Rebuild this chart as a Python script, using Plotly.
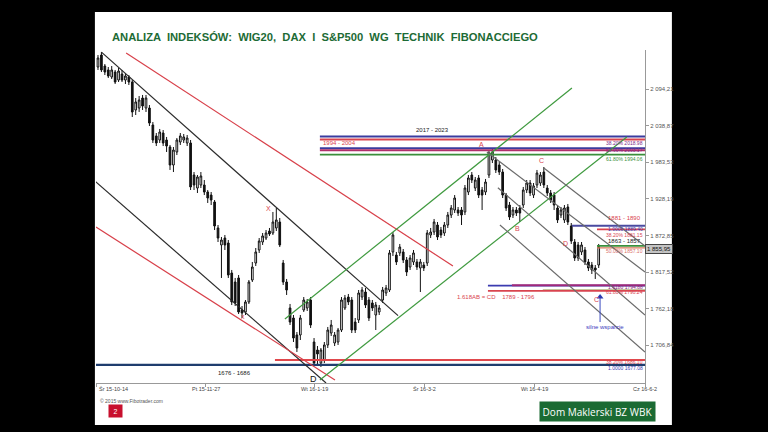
import plotly.graph_objects as go

# ---------------- data ----------------
day_index = list(range(147))
open_ = [2127.5, 2145.6, 2129.0, 2123.0, 2112.4, 2119.9, 2107.8, 2116.9, 2107.8, 2112.4,
         2104.8, 2062.5, 2065.5, 2080.6, 2065.5, 2065.5, 2039.8, 2023.2, 2017.1, 2027.7,
         2017.1, 2006.5, 1979.3, 1999.0, 2014.1, 2017.1, 2012.6, 2012.6, 1964.2, 1944.5,
         1949.1, 1949.1, 1938.5, 1933.9, 1923.4, 1884.1, 1858.4, 1868.9, 1861.4, 1816.0,
         1802.4, 1808.5, 1760.1, 1757.1, 1772.2, 1805.4, 1831.1, 1850.8, 1862.9, 1868.9,
         1879.5, 1876.5, 1884.1, 1893.1, 1831.1, 1802.4, 1763.1, 1748.0, 1722.3, 1722.3,
         1760.1, 1763.1, 1775.2, 1711.7, 1699.6, 1679.9, 1684.5, 1707.2, 1725.3, 1710.2,
         1711.7, 1729.8, 1763.1, 1779.7, 1775.2, 1741.9, 1745.0, 1779.7, 1787.3, 1775.2,
         1770.7, 1752.5, 1757.1, 1775.2, 1785.8, 1790.3, 1847.8, 1843.2, 1846.3, 1847.8,
         1835.7, 1825.1, 1832.7, 1832.7, 1823.6, 1828.1, 1831.1, 1873.5, 1878.0, 1888.6,
         1881.0, 1876.5, 1888.6, 1903.7, 1911.3, 1911.3, 1911.3, 1908.3, 1938.5, 1964.2,
         1944.5, 1959.7, 1941.5, 1938.5, 1964.2, 1986.9, 1986.9, 1979.3, 1968.7, 1933.9,
         1918.8, 1903.7, 1911.3, 1914.3, 1918.8, 1941.5, 1952.1, 1933.9, 1949.1, 1952.1,
         1968.7, 1944.5, 1937.0, 1933.9, 1914.3, 1903.7, 1896.2, 1915.8, 1887.1, 1862.9,
         1858.4, 1847.8, 1850.8, 1832.7, 1828.1, 1823.6, 1828.1]
high = [2145.6, 2150.2, 2132.0, 2127.5, 2129.0, 2123.0, 2126.0, 2123.0, 2118.4, 2115.4,
        2107.8, 2080.6, 2083.6, 2085.2, 2085.2, 2070.0, 2044.3, 2027.7, 2033.8, 2032.2,
        2021.7, 2009.6, 2006.5, 2020.1, 2027.7, 2026.2, 2024.7, 2017.1, 1968.7, 1964.2,
        1968.7, 1956.6, 1941.5, 1938.5, 1926.4, 1888.6, 1870.5, 1873.5, 1865.9, 1820.6,
        1808.5, 1813.0, 1766.1, 1775.2, 1805.4, 1832.7, 1853.8, 1868.9, 1876.5, 1881.0,
        1884.1, 1908.3, 1914.3, 1899.2, 1835.7, 1807.0, 1769.2, 1752.5, 1726.8, 1752.5,
        1779.7, 1776.7, 1779.7, 1717.7, 1705.6, 1702.6, 1711.7, 1734.4, 1745.0, 1726.8,
        1732.9, 1779.7, 1782.8, 1784.3, 1779.7, 1748.0, 1790.3, 1794.9, 1793.3, 1779.7,
        1775.2, 1772.2, 1767.6, 1794.9, 1797.9, 1850.8, 1878.0, 1847.8, 1859.9, 1852.3,
        1840.2, 1843.2, 1850.8, 1837.2, 1837.2, 1832.7, 1881.0, 1884.1, 1897.7, 1893.1,
        1885.6, 1893.1, 1908.3, 1918.8, 1933.9, 1915.8, 1915.8, 1949.1, 1964.2, 1968.7,
        1961.2, 1964.2, 1946.1, 1958.2, 2002.0, 2003.5, 1991.4, 1983.9, 1973.3, 1937.0,
        1923.4, 1915.8, 1915.8, 1918.8, 1946.1, 1956.6, 1956.6, 1952.1, 1971.8, 1968.7,
        1976.3, 1949.1, 1941.5, 1938.5, 1918.8, 1915.8, 1918.8, 1920.4, 1891.6, 1867.4,
        1862.9, 1862.9, 1855.3, 1837.2, 1832.7, 1828.1, 1859.9]
low = [2123.0, 2119.9, 2115.4, 2110.9, 2109.3, 2101.8, 2104.8, 2104.8, 2101.8, 2100.3,
       2051.9, 2054.9, 2059.5, 2062.5, 2059.5, 2038.3, 2012.6, 2008.0, 2012.6, 2008.0,
       1999.0, 1971.8, 1968.7, 1994.4, 2009.6, 2012.6, 2008.0, 1941.5, 1941.5, 1937.0,
       1944.5, 1933.9, 1921.9, 1918.8, 1881.0, 1862.9, 1808.5, 1850.8, 1808.5, 1767.6,
       1766.1, 1754.0, 1748.0, 1752.5, 1769.2, 1802.4, 1826.6, 1846.3, 1858.4, 1865.9,
       1872.0, 1873.5, 1879.5, 1855.3, 1797.9, 1782.8, 1737.4, 1711.7, 1696.6, 1714.7,
       1757.1, 1758.6, 1732.9, 1675.4, 1678.4, 1673.9, 1679.9, 1702.6, 1720.8, 1705.6,
       1707.2, 1726.8, 1760.1, 1767.6, 1725.3, 1725.3, 1740.4, 1775.2, 1763.1, 1743.4,
       1758.6, 1729.8, 1752.5, 1770.7, 1781.2, 1787.3, 1841.7, 1828.1, 1841.7, 1831.1,
       1811.5, 1820.6, 1828.1, 1820.6, 1787.3, 1819.0, 1826.6, 1868.9, 1873.5, 1865.9,
       1868.9, 1872.0, 1884.1, 1899.2, 1906.7, 1902.2, 1888.6, 1903.7, 1933.9, 1952.1,
       1940.0, 1929.4, 1911.3, 1933.9, 1959.7, 1982.3, 1967.2, 1964.2, 1929.4, 1909.8,
       1896.2, 1899.2, 1902.2, 1893.1, 1914.3, 1937.0, 1932.4, 1929.4, 1944.5, 1947.6,
       1944.5, 1932.4, 1921.9, 1911.3, 1891.6, 1899.2, 1891.6, 1888.6, 1859.9, 1834.2,
       1834.2, 1843.2, 1828.1, 1819.0, 1814.5, 1807.0, 1823.6]
close = [2141.1, 2123.0, 2119.9, 2113.9, 2123.0, 2104.8, 2121.4, 2107.8, 2113.9, 2104.8,
         2059.5, 2074.6, 2077.6, 2068.5, 2080.6, 2042.8, 2017.1, 2012.6, 2029.2, 2012.6,
         2008.0, 1979.3, 2002.0, 2017.1, 2023.2, 2021.7, 2020.1, 1946.1, 1949.1, 1961.2,
         1962.7, 1938.5, 1929.4, 1926.4, 1887.1, 1868.9, 1865.9, 1858.4, 1813.0, 1772.2,
         1770.7, 1757.1, 1755.5, 1772.2, 1802.4, 1825.1, 1847.8, 1864.4, 1872.0, 1876.5,
         1875.0, 1893.1, 1896.2, 1858.4, 1802.4, 1790.3, 1741.9, 1717.7, 1702.6, 1748.0,
         1775.2, 1772.2, 1737.4, 1679.9, 1693.6, 1699.6, 1707.2, 1729.8, 1737.4, 1722.3,
         1729.8, 1775.2, 1778.2, 1772.2, 1729.8, 1729.8, 1785.8, 1790.3, 1767.6, 1748.0,
         1763.1, 1767.6, 1763.1, 1790.3, 1793.3, 1846.3, 1873.5, 1832.7, 1855.3, 1835.7,
         1817.5, 1838.7, 1846.3, 1825.1, 1832.7, 1823.6, 1876.5, 1878.0, 1893.1, 1870.5,
         1873.5, 1888.6, 1903.7, 1914.3, 1929.4, 1906.7, 1903.7, 1944.5, 1959.7, 1956.6,
         1956.6, 1933.9, 1933.9, 1953.6, 1997.5, 1999.0, 1971.8, 1968.7, 1933.9, 1914.3,
         1900.7, 1911.3, 1906.7, 1906.7, 1941.5, 1952.1, 1937.0, 1947.6, 1967.2, 1964.2,
         1949.1, 1937.0, 1926.4, 1918.8, 1896.2, 1911.3, 1914.3, 1893.1, 1864.4, 1838.7,
         1838.7, 1858.4, 1832.7, 1823.6, 1820.6, 1820.6, 1855.95]

date_tick_pos = [-0.3, 31.4, 63.0, 95.3, 127.4, 159.5]
date_tick_text = ["Śr 15-10-14", "Pt 15-11-27", "Wt 16-1-19", "Śr 16-3-2", "Wt 16-4-19", "Cz 16-6-2"]
price_tick_vals = [1706.84, 1762.18, 1817.52, 1872.85, 1928.19, 1983.53, 2038.87, 2094.21]
price_tick_text = ["1 706,84", "1 762,18", "1 817,52", "1 872,85", "1 928,19", "1 983,53", "2 038,87", "2 094,21"]
last_price = 1855.95
last_price_text = "1 855,95"

# Fibonacci horizontal levels (price, start day index)
fib_levels = [2022.5, 2018.0, 2004.5, 2001.5, 1995.0, 1887.5, 1882.0, 1857.0, 1854.0,
              1797.0, 1797.5, 1790.0, 1789.0, 1684.5, 1677.0]
fib_start = [64.7, 64.7, 64.7, 64.7, 64.7, 138.2, 145.5, 145.5, 145.5,
             113.7, 120.7, 129.7, 113.7, 51.6, -0.6]
fib_end = 159.5

# trend lines (start day, start price, end day, end price)
trend_x0 = [1.0, 8.2, -0.9, -0.6, 54.5, 64.7, 113.4, 130.0, 116.6, 117.2]
trend_p0 = [2150.0, 2148.7, 1955.1, 1885.6, 1746.5, 1654.3, 1999.0, 1974.8, 1945.0, 1888.6]
trend_x1 = [87.5, 103.5, 66.5, 69.1, 138.2, 154.2, 159.5, 159.5, 159.5, 159.5]
trend_p1 = [1751.6, 1826.6, 1649.7, 1654.3, 2095.7, 2021.7, 1817.5, 1856.8, 1752.5, 1696.6]

# wave labels
wave_text = ["A", "B", "C", "D", "X", "D", "x", "C"]
wave_x = [111.9, 122.2, 129.2, 136.4, 49.6, 62.7, 42.3, 145.3]
wave_p = [2009.6, 1882.6, 1985.4, 1859.9, 1914.3, 1655.8, 1751.0, 1776.0]

# zone labels
zone_text = ["2017 - 2023", "1994 - 2004", "1881 - 1890", "1863 - 1857",
             "1.618AB = CD    1789 - 1796", "1676 - 1686"]
zone_x = [97.4, 64.9, 153.6, 153.6, 116.0, 39.7]
zone_p = [2032.2, 2012.6, 1899.0, 1864.0, 1779.7, 1664.8]

# right-edge fib labels
fiblab_text = ["38.20% 2018.98", "50.00% 2003.17", "61.80% 1994.06", "1.0000 1889.40",
               "38.20% 1881.15", "50.00% 1857.10", "1.6180 1794.88", "61.80% 1790.24",
               "38.20% 1686.10", "1.0000 1677.08"]
fiblab_p = [2013.0, 2001.7, 1988.4, 1882.6, 1873.5, 1849.7, 1794.9, 1787.8, 1681.5, 1672.4]

support_x = 146.4
support_p_top = 1779.7
support_p_bottom = 1741.9
support_text = "silne wsparcie"
support_text_p = 1734.4

# ---------------- styles ----------------
fib_colors = ["#3b3b9e", "#d9444f", "#3b3b9e", "#b0306a", "#3a8f3a", "#4a4aa0", "#d9444f",
              "#3a8f3a", "#d97a5a", "#3b3bb0", "#a0287a", "#8c8c3c", "#d9444f", "#e0474c", "#1f3d6e"]
fib_widths = [2, 2, 2, 2, 1.6, 2, 1.6, 1.8, 1.2, 1.6, 2, 1.6, 1.8, 2.2, 2.2]
trend_colors = ["#2b2b2b", "#d8404a", "#2b2b2b", "#d8404a", "#3f9a3f", "#3f9a3f",
                "#6a6a6a", "#6a6a6a", "#6a6a6a", "#6a6a6a"]
fiblab_colors = ["#7a2a8a", "#7a2a8a", "#3a8f3a", "#3b3bb0", "#d9444f", "#d9706a",
                 "#8a2a7a", "#d9444f", "#d9444f", "#3b3bb0"]
FONT = "Liberation Sans, Arial, sans-serif"

fig = go.Figure()

for lvl, st, col, w in zip(fib_levels, fib_start, fib_colors, fib_widths):
    fig.add_trace(go.Scatter(x=[st, fib_end], y=[lvl, lvl], mode="lines",
                             line=dict(color=col, width=w), hoverinfo="skip", showlegend=False))

for x0, p0, x1, p1, col in zip(trend_x0, trend_p0, trend_x1, trend_p1, trend_colors):
    fig.add_trace(go.Scatter(x=[x0, x1], y=[p0, p1], mode="lines",
                             line=dict(color=col, width=1.2), hoverinfo="skip", showlegend=False))

fig.add_trace(go.Candlestick(
    x=day_index, open=open_, high=high, low=low, close=close,
    increasing=dict(fillcolor="white", line=dict(color="#111", width=1)),
    decreasing=dict(fillcolor="#111", line=dict(color="#111", width=1)),
    whiskerwidth=0, hoverinfo="skip", showlegend=False))

# support marker
fig.add_trace(go.Scatter(x=[support_x, support_x], y=[support_p_top, support_p_bottom], mode="lines",
                         line=dict(color="#3b4bc0", width=1), hoverinfo="skip", showlegend=False))
fig.add_trace(go.Scatter(x=[support_x], y=[support_p_top], mode="markers",
                         marker=dict(symbol="triangle-up", size=6, color="#2b3bb0"),
                         hoverinfo="skip", showlegend=False))

ann = []
for t, x, p in zip(wave_text, wave_x, wave_p):
    col = "#111" if (t == "D" and p < 1700) else "#d9444f"
    size = 9 if col == "#111" else 7
    ann.append(dict(x=x, y=p, xref="x", yref="y", text=t, showarrow=False,
                    font=dict(family=FONT, size=size, color=col)))
zone_colors = ["#222", "#d9444f", "#d9444f", "#222", "#d9444f", "#222"]
for i, (t, x, p) in enumerate(zip(zone_text, zone_x, zone_p)):
    ann.append(dict(x=x, y=p, xref="x", yref="y", text=t, showarrow=False,
                    xanchor="left" if i == 1 else "center",
                    font=dict(family=FONT, size=6, color=zone_colors[i])))
for t, p, c in zip(fiblab_text, fiblab_p, fiblab_colors):
    ann.append(dict(x=fib_end, y=p, xref="x", yref="y", text=t, showarrow=False,
                    xanchor="right", font=dict(family=FONT, size=5, color=c)))
ann.append(dict(x=support_x + 1.5, y=support_text_p, xref="x", yref="y", text=support_text,
                showarrow=False, font=dict(family=FONT, size=6, color="#3b3bc0")))
# date tick labels
for i, (t, x) in enumerate(zip(date_tick_text, date_tick_pos)):
    ann.append(dict(x=x, y=-0.017, xref="x", yref="paper", text=t, showarrow=False,
                    xanchor="left" if i == 0 else "center", yanchor="middle",
                    font=dict(family=FONT, size=5.5, color="#444")))
# last price tag
ann.append(dict(x=1.0, y=last_price - 4, xref="paper", yref="y", text=last_price_text,
                showarrow=False, xanchor="left", bgcolor="#c4c4c4", bordercolor="#444",
                borderwidth=1, borderpad=1, font=dict(family=FONT, size=6, color="#111")))
# title
ann.append(dict(x=0.0255, y=1.039, xref="paper", yref="paper",
                text="<b>ANALIZA  INDEKSÓW:  WIG20,  DAX  I  S&amp;P500  WG  TECHNIK  FIBONACCIEGO</b>",
                showarrow=False, xanchor="left", yanchor="middle",
                font=dict(family=FONT, size=11.2, color="#1d6b35")))
# footer
ann.append(dict(x=0.0036, y=-0.054, xref="paper", yref="paper", text="© 2015 www.Fibotrader.com",
                showarrow=False, xanchor="left", yanchor="middle",
                font=dict(family=FONT, size=5, color="#555")))
ann.append(dict(x=0.0364, y=-0.083, xref="paper", yref="paper", text="2", showarrow=False,
                width=11, height=10, bgcolor="#c8102e", xanchor="center", yanchor="middle",
                font=dict(family=FONT, size=7, color="white")))
ann.append(dict(x=0.9135, y=-0.087, xref="paper", yref="paper", text="Dom Maklerski BZ WBK",
                showarrow=False, width=113, height=17, bgcolor="#1b6b33",
                xanchor="center", yanchor="middle",
                font=dict(family="Open Sans, Liberation Sans, sans-serif", size=10, color="white")))

fig.update_layout(
    width=768, height=432,
    margin=dict(l=96, r=123, t=50, b=49),
    paper_bgcolor="black", plot_bgcolor="rgba(0,0,0,0)",
    showlegend=False,
    annotations=ann,
    shapes=[dict(type="rect", xref="paper", yref="paper", x0=-0.002, x1=1.049, y0=-0.126, y1=1.114,
                 fillcolor="white", line=dict(width=0), layer="below")],
    xaxis=dict(range=[-0.58, 159.5], showgrid=False, zeroline=False, showline=True,
               linecolor="#999", linewidth=1, tickvals=date_tick_pos, ticks="outside",
               ticklen=3, tickcolor="#999", showticklabels=False,
               rangeslider=dict(visible=False), automargin=False, fixedrange=True),
    yaxis=dict(range=[1649.7, 2153.2], side="right", showgrid=False, zeroline=False,
               showline=True, linecolor="#999", linewidth=1, tickvals=price_tick_vals,
               ticktext=price_tick_text, ticks="outside", ticklen=3, tickcolor="#999",
               tickfont=dict(family=FONT, size=6, color="#555"), automargin=False),
)

fig.write_html("out.html", config={"displayModeBar": False},
               post_script="document.body.style.margin='0';document.body.style.overflow='hidden';")
